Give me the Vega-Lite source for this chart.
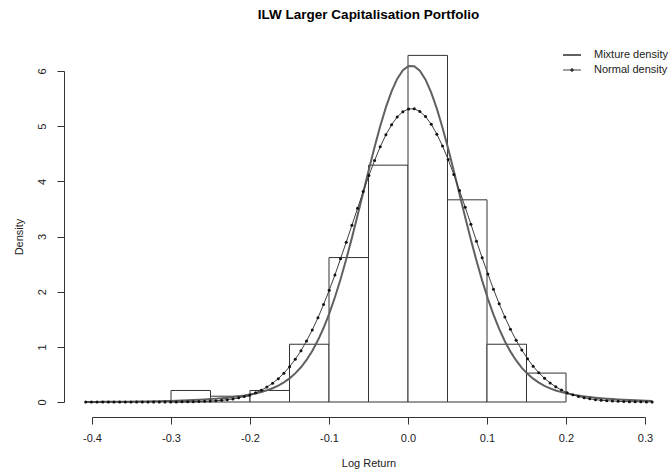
{
  "$schema": "https://vega.github.io/schema/vega-lite/v6.json",
  "width": 553,
  "height": 331,
  "autosize": {"type": "none"},
  "padding": {"left": 92, "top": 71, "right": 23, "bottom": 72},
  "background": "white",
  "config": {"view": {"stroke": null}, "font": "Liberation Sans"},
  "title": {"text": "ILW Larger Capitalisation Portfolio", "font": "Liberation Sans", "fontSize": 13.5, "fontWeight": "bold", "color": "#000", "anchor": "middle", "frame": "group", "offset": 28},
  "datasets": {
    "hist": [
      {"start": -0.30, "end": -0.25, "density": 0.209},
      {"start": -0.25, "end": -0.20, "density": 0.105},
      {"start": -0.20, "end": -0.15, "density": 0.209},
      {"start": -0.15, "end": -0.10, "density": 1.047},
      {"start": -0.10, "end": -0.05, "density": 2.618},
      {"start": -0.05, "end": 0.00, "density": 4.293},
      {"start": 0.00, "end": 0.05, "density": 6.283},
      {"start": 0.05, "end": 0.10, "density": 3.665},
      {"start": 0.10, "end": 0.15, "density": 1.047},
      {"start": 0.15, "end": 0.20, "density": 0.524}
    ],
    "curves": [
      {"x": -0.4080, "Mixture density": 0.0014, "Normal density": 0.0000},
      {"x": -0.4008, "Mixture density": 0.0017, "Normal density": 0.0000},
      {"x": -0.3937, "Mixture density": 0.0021, "Normal density": 0.0000},
      {"x": -0.3865, "Mixture density": 0.0025, "Normal density": 0.0000},
      {"x": -0.3793, "Mixture density": 0.0030, "Normal density": 0.0000},
      {"x": -0.3722, "Mixture density": 0.0037, "Normal density": 0.0000},
      {"x": -0.3650, "Mixture density": 0.0044, "Normal density": 0.0000},
      {"x": -0.3578, "Mixture density": 0.0053, "Normal density": 0.0000},
      {"x": -0.3506, "Mixture density": 0.0064, "Normal density": 0.0001},
      {"x": -0.3435, "Mixture density": 0.0076, "Normal density": 0.0001},
      {"x": -0.3363, "Mixture density": 0.0090, "Normal density": 0.0002},
      {"x": -0.3291, "Mixture density": 0.0106, "Normal density": 0.0003},
      {"x": -0.3220, "Mixture density": 0.0125, "Normal density": 0.0004},
      {"x": -0.3148, "Mixture density": 0.0147, "Normal density": 0.0006},
      {"x": -0.3076, "Mixture density": 0.0172, "Normal density": 0.0009},
      {"x": -0.3005, "Mixture density": 0.0200, "Normal density": 0.0014},
      {"x": -0.2933, "Mixture density": 0.0233, "Normal density": 0.0020},
      {"x": -0.2861, "Mixture density": 0.0270, "Normal density": 0.0029},
      {"x": -0.2789, "Mixture density": 0.0311, "Normal density": 0.0042},
      {"x": -0.2718, "Mixture density": 0.0358, "Normal density": 0.0060},
      {"x": -0.2646, "Mixture density": 0.0411, "Normal density": 0.0085},
      {"x": -0.2574, "Mixture density": 0.0471, "Normal density": 0.0119},
      {"x": -0.2503, "Mixture density": 0.0536, "Normal density": 0.0166},
      {"x": -0.2431, "Mixture density": 0.0612, "Normal density": 0.0229},
      {"x": -0.2359, "Mixture density": 0.0697, "Normal density": 0.0312},
      {"x": -0.2288, "Mixture density": 0.0792, "Normal density": 0.0422},
      {"x": -0.2216, "Mixture density": 0.0902, "Normal density": 0.0566},
      {"x": -0.2144, "Mixture density": 0.1029, "Normal density": 0.0752},
      {"x": -0.2072, "Mixture density": 0.1177, "Normal density": 0.0990},
      {"x": -0.2001, "Mixture density": 0.1349, "Normal density": 0.1289},
      {"x": -0.1929, "Mixture density": 0.1558, "Normal density": 0.1665},
      {"x": -0.1857, "Mixture density": 0.1811, "Normal density": 0.2133},
      {"x": -0.1786, "Mixture density": 0.2117, "Normal density": 0.2705},
      {"x": -0.1714, "Mixture density": 0.2498, "Normal density": 0.3401},
      {"x": -0.1642, "Mixture density": 0.2973, "Normal density": 0.4237},
      {"x": -0.1571, "Mixture density": 0.3555, "Normal density": 0.5227},
      {"x": -0.1499, "Mixture density": 0.4283, "Normal density": 0.6394},
      {"x": -0.1427, "Mixture density": 0.5186, "Normal density": 0.7750},
      {"x": -0.1355, "Mixture density": 0.6296, "Normal density": 0.9304},
      {"x": -0.1284, "Mixture density": 0.7627, "Normal density": 1.1075},
      {"x": -0.1212, "Mixture density": 0.9251, "Normal density": 1.3059},
      {"x": -0.1140, "Mixture density": 1.1181, "Normal density": 1.5256},
      {"x": -0.1069, "Mixture density": 1.3409, "Normal density": 1.7666},
      {"x": -0.0997, "Mixture density": 1.6020, "Normal density": 2.0267},
      {"x": -0.0925, "Mixture density": 1.8980, "Normal density": 2.3038},
      {"x": -0.0854, "Mixture density": 2.2247, "Normal density": 2.5953},
      {"x": -0.0782, "Mixture density": 2.5862, "Normal density": 2.8975},
      {"x": -0.0710, "Mixture density": 2.9750, "Normal density": 3.2043},
      {"x": -0.0638, "Mixture density": 3.3836, "Normal density": 3.5124},
      {"x": -0.0567, "Mixture density": 3.7972, "Normal density": 3.8145},
      {"x": -0.0495, "Mixture density": 4.2159, "Normal density": 4.1049},
      {"x": -0.0423, "Mixture density": 4.6222, "Normal density": 4.3773},
      {"x": -0.0352, "Mixture density": 4.9977, "Normal density": 4.6251},
      {"x": -0.0280, "Mixture density": 5.3399, "Normal density": 4.8432},
      {"x": -0.0208, "Mixture density": 5.6308, "Normal density": 5.0247},
      {"x": -0.0137, "Mixture density": 5.8560, "Normal density": 5.1656},
      {"x": -0.0065, "Mixture density": 6.0130, "Normal density": 5.2624},
      {"x": 0.0007, "Mixture density": 6.0914, "Normal density": 5.3124},
      {"x": 0.0079, "Mixture density": 6.0879, "Normal density": 5.3140},
      {"x": 0.0150, "Mixture density": 6.0044, "Normal density": 5.2672},
      {"x": 0.0222, "Mixture density": 5.8423, "Normal density": 5.1730},
      {"x": 0.0294, "Mixture density": 5.6090, "Normal density": 5.0347},
      {"x": 0.0365, "Mixture density": 5.3182, "Normal density": 4.8555},
      {"x": 0.0437, "Mixture density": 4.9724, "Normal density": 4.6400},
      {"x": 0.0509, "Mixture density": 4.5887, "Normal density": 4.3938},
      {"x": 0.0580, "Mixture density": 4.1870, "Normal density": 4.1225},
      {"x": 0.0652, "Mixture density": 3.7677, "Normal density": 3.8331},
      {"x": 0.0724, "Mixture density": 3.3488, "Normal density": 3.5309},
      {"x": 0.0796, "Mixture density": 2.9418, "Normal density": 3.2241},
      {"x": 0.0867, "Mixture density": 2.5604, "Normal density": 2.9160},
      {"x": 0.0939, "Mixture density": 2.2004, "Normal density": 2.6139},
      {"x": 0.1011, "Mixture density": 1.8718, "Normal density": 2.3219},
      {"x": 0.1082, "Mixture density": 1.5827, "Normal density": 2.0437},
      {"x": 0.1154, "Mixture density": 1.3240, "Normal density": 1.7825},
      {"x": 0.1226, "Mixture density": 1.1009, "Normal density": 1.5405},
      {"x": 0.1297, "Mixture density": 0.9127, "Normal density": 1.3192},
      {"x": 0.1369, "Mixture density": 0.7526, "Normal density": 1.1192},
      {"x": 0.1441, "Mixture density": 0.6196, "Normal density": 0.9410},
      {"x": 0.1513, "Mixture density": 0.5104, "Normal density": 0.7841},
      {"x": 0.1584, "Mixture density": 0.4227, "Normal density": 0.6474},
      {"x": 0.1656, "Mixture density": 0.3509, "Normal density": 0.5298},
      {"x": 0.1728, "Mixture density": 0.2930, "Normal density": 0.4293},
      {"x": 0.1799, "Mixture density": 0.2470, "Normal density": 0.3450},
      {"x": 0.1871, "Mixture density": 0.2093, "Normal density": 0.2746},
      {"x": 0.1943, "Mixture density": 0.1788, "Normal density": 0.2165},
      {"x": 0.2014, "Mixture density": 0.1542, "Normal density": 0.1692},
      {"x": 0.2086, "Mixture density": 0.1336, "Normal density": 0.1310},
      {"x": 0.2158, "Mixture density": 0.1163, "Normal density": 0.1006},
      {"x": 0.2230, "Mixture density": 0.1018, "Normal density": 0.0764},
      {"x": 0.2301, "Mixture density": 0.0893, "Normal density": 0.0576},
      {"x": 0.2373, "Mixture density": 0.0784, "Normal density": 0.0430},
      {"x": 0.2445, "Mixture density": 0.0689, "Normal density": 0.0318},
      {"x": 0.2516, "Mixture density": 0.0606, "Normal density": 0.0233},
      {"x": 0.2588, "Mixture density": 0.0532, "Normal density": 0.0170},
      {"x": 0.2660, "Mixture density": 0.0465, "Normal density": 0.0122},
      {"x": 0.2731, "Mixture density": 0.0407, "Normal density": 0.0087},
      {"x": 0.2803, "Mixture density": 0.0354, "Normal density": 0.0062},
      {"x": 0.2875, "Mixture density": 0.0308, "Normal density": 0.0043},
      {"x": 0.2947, "Mixture density": 0.0266, "Normal density": 0.0030},
      {"x": 0.3018, "Mixture density": 0.0230, "Normal density": 0.0021},
      {"x": 0.3090, "Mixture density": 0.0198, "Normal density": 0.0014}
    ]
  },
  "layer": [
    {
      "data": {"name": "hist"},
      "mark": {"type": "rect", "fill": "white", "stroke": "#333333", "strokeWidth": 1},
      "encoding": {
        "x": {
          "field": "start", "type": "quantitative",
          "scale": {"domain": [-0.4, 0.3], "nice": false, "zero": false},
          "axis": {
            "title": "Log Return", "values": [-0.4, -0.3, -0.2, -0.1, 0, 0.1, 0.2, 0.3],
            "labelExpr": "datum.value == 0 ? '0.0' : '' + datum.value",
            "offset": 15, "tickSize": 7, "labelPadding": 8, "labelFlush": false, "labelOverlap": false,
            "labelFontSize": 11, "labelFont": "Liberation Sans", "labelColor": "#222222",
            "domainColor": "#333333", "tickColor": "#333333", "grid": false,
            "titleFontSize": 11, "titleFont": "Liberation Sans", "titleFontWeight": "normal", "titleColor": "#222222", "titlePadding": 14
          }
        },
        "x2": {"field": "end"},
        "y": {
          "field": "density", "type": "quantitative",
          "scale": {"domain": [0, 6], "nice": false},
          "axis": {
            "title": "Density", "values": [0, 1, 2, 3, 4, 5, 6],
            "labelExpr": "'' + datum.value",
            "offset": 28, "tickSize": 7, "labelPadding": 10, "labelAngle": -90, "labelAlign": "center", "labelBaseline": "bottom",
            "labelFlush": false, "labelOverlap": false,
            "labelFontSize": 11, "labelFont": "Liberation Sans", "labelColor": "#222222",
            "domainColor": "#333333", "tickColor": "#333333", "grid": false,
            "titleFontSize": 11, "titleFont": "Liberation Sans", "titleFontWeight": "normal", "titleColor": "#222222", "titlePadding": 12
          }
        },
        "y2": {"datum": 0}
      }
    },
    {
      "data": {"name": "curves"},
      "transform": [{"fold": ["Mixture density", "Normal density"], "as": ["series", "density"]}],
      "mark": {"type": "line", "interpolate": "linear"},
      "encoding": {
        "x": {"field": "x", "type": "quantitative"},
        "y": {"field": "density", "type": "quantitative"},
        "color": {
          "field": "series", "type": "nominal",
          "scale": {"domain": ["Mixture density", "Normal density"], "range": ["#606060", "#404040"]},
          "legend": {
            "orient": "none", "legendX": 474.5, "legendY": -21.5, "title": null,
            "symbolType": "stroke", "symbolSize": 81, "symbolStrokeWidth": 1.5,
            "labelFontSize": 11, "labelFont": "Liberation Sans", "labelColor": "#222222", "labelOffset": 16.5, "rowPadding": 3,
            "encode": {
              "symbols": {
                "update": {
                  "shape": {"signal": "datum.value === 'Normal density' ? 'M-2,0H2M-0.3,0A0.3,0.3,0,1,0,0.3,0A0.3,0.3,0,1,0,-0.3,0Z' : 'M-2,0H2'"},
                  "fill": {"value": "#111111"}
                }
              }
            }
          }
        },
        "strokeWidth": {
          "field": "series", "type": "nominal",
          "scale": {"domain": ["Mixture density", "Normal density"], "range": [2, 1]},
          "legend": null
        }
      }
    },
    {
      "data": {"name": "curves"},
      "transform": [{"fold": ["Normal density"], "as": ["series", "density"]}],
      "mark": {"type": "circle", "size": 9, "color": "#111111", "opacity": 1},
      "encoding": {
        "x": {"field": "x", "type": "quantitative"},
        "y": {"field": "density", "type": "quantitative"}
      }
    }
  ]
}
